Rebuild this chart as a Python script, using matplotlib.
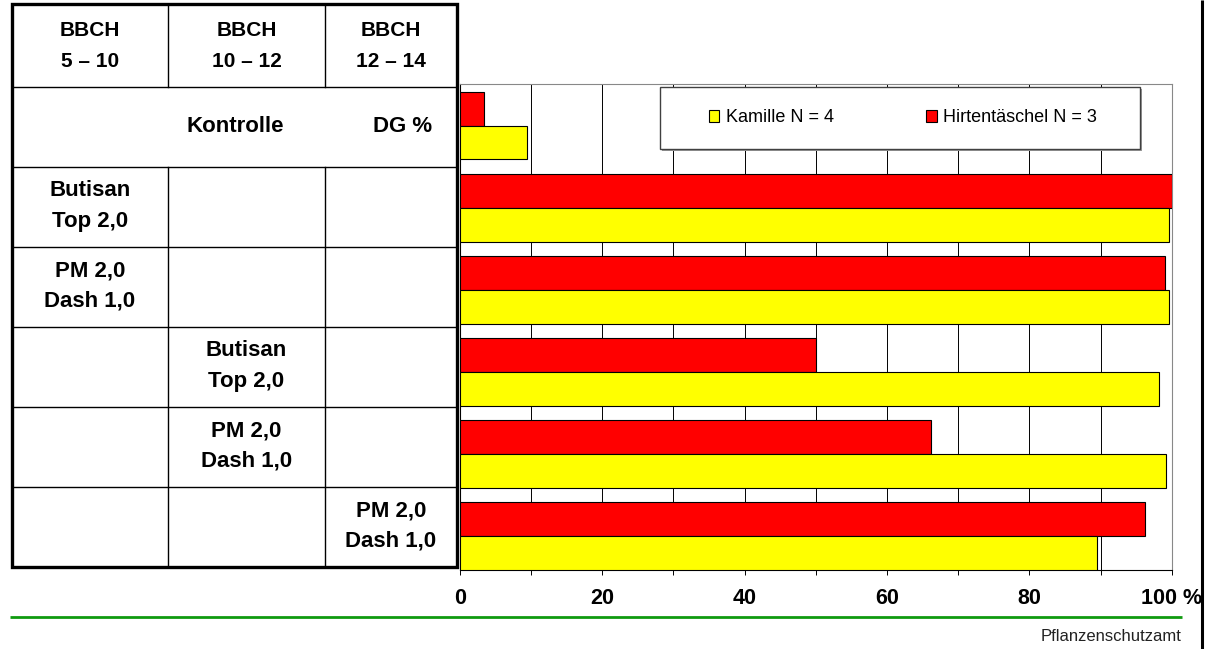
import matplotlib.pyplot as plt
from matplotlib.patches import Rectangle

plt.rcParams['font.family'] = ['Liberation Sans', 'DejaVu Sans']

# Wirkungsgrad (DG %) je Variante, oben Kontrolle
kamille = [9.4, 99.6, 99.6, 98.2, 99.2, 89.5]
hirtentaeschel = [3.4, 100.0, 99.0, 50.0, 66.2, 96.3]
legend_labels = ['Kamille N = 4', 'Hirtentäschel N = 3']

# Tabelle links: Spaltenköpfe und Varianten (Spalte = Anwendungstermin)
stages = ['BBCH\n5 – 10', 'BBCH\n10 – 12', 'BBCH\n12 – 14']
treatments = ['Butisan\nTop 2,0', 'PM 2,0\nDash 1,0', 'Butisan\nTop 2,0',
              'PM 2,0\nDash 1,0', 'PM 2,0\nDash 1,0']
treatment_stage = [0, 0, 1, 1, 2]

x_ticks = [0, 20, 40, 60, 80, 100]
x_ticklabels = ['0', '20', '40', '60', '80', '100 %']

W, H = 1215, 649
fig = plt.figure(figsize=(W / 100, H / 100), dpi=100)

# --- Balkendiagramm ---
ax = fig.add_axes([459.7 / W, 1 - 570 / H, (1171.7 - 459.7) / W, (570 - 84) / H])
pos = list(range(len(kamille)))
h = 0.414
b_red = ax.barh([p - h / 2 for p in pos], hirtentaeschel, height=h,
                color='#ff0000', edgecolor='black', linewidth=0.8, zorder=3)
b_yel = ax.barh([p + h / 2 for p in pos], kamille, height=h,
                color='#ffff00', edgecolor='black', linewidth=0.8, zorder=3)
ax.set_xlim(0, 100)
ax.set_ylim(5.414, -0.5055)
ax.set_yticks([])
ax.set_xticks(x_ticks)
ax.set_xticklabels(x_ticklabels, fontsize=15.5, fontweight='bold')
ax.set_xticks(range(10, 100, 20), minor=True)
ax.tick_params(axis='x', which='both', direction='out', length=3.6, width=0.7, pad=9)
ax.grid(axis='x', which='both', color='black', linewidth=0.7)
ax.set_axisbelow(True)
for s in ['top', 'right']:
    ax.spines[s].set_color('#888888')
    ax.spines[s].set_linewidth(0.8)
ax.spines['bottom'].set_linewidth(0.8)
ax.spines['left'].set_linewidth(0.8)

# --- Überlagerung in Pixelkoordinaten: Tabelle, Legende, Fußzeile ---
ov = fig.add_axes([0, 0, 1, 1], facecolor='none')
ov.set_xlim(0, W)
ov.set_ylim(H, 0)
ov.axis('off')

left, right, top, bottom = 11.5, 456.5, 4, 567
col_x = [168, 325]
row_y = [87, 167, 247, 327, 407, 487, 567]
thin = dict(color='black', linewidth=1.0)
for y in row_y[:-1]:
    ov.plot([left, right], [y, y], **thin)
for x in col_x:
    ov.plot([x, x], [top, row_y[0]], **thin)
    ov.plot([x, x], [row_y[1], bottom], **thin)
ov.add_patch(Rectangle((left, top), right - left, bottom - top, fill=False,
                       edgecolor='black', linewidth=2.4, zorder=5))

col_cx = [90, 246.5, 391]
for c, txt in enumerate(stages):
    ov.text(col_cx[c], 46, txt, ha='center', va='center', fontsize=15,
            fontweight='bold', linespacing=1.8)
ov.text(235, 127, 'Kontrolle', ha='center', va='center', fontsize=16, fontweight='bold')
ov.text(403, 127, 'DG %', ha='center', va='center', fontsize=16, fontweight='bold')
for r, (txt, c) in enumerate(zip(treatments, treatment_stage)):
    yc = (row_y[r + 1] + row_y[r + 2]) / 2
    ov.text(col_cx[c], yc - 1, txt, ha='center', va='center', fontsize=16,
            fontweight='bold', linespacing=1.62)

# Legende mit Rahmen und Schatten
ov.add_patch(Rectangle((662, 89), 480, 62, facecolor='#9a9a9a', edgecolor='none', zorder=6))
ov.add_patch(Rectangle((660, 87), 480, 62, facecolor='white', edgecolor='#404040',
                       linewidth=1.0, zorder=7))
leg = ov.legend([b_yel, b_red], legend_labels, loc='center',
                bbox_to_anchor=(902.7 / W, 1 - 118 / H), bbox_transform=fig.transFigure,
                ncol=2, frameon=False, fontsize=13, handlelength=0.6, handleheight=0.6,
                handletextpad=0.35, columnspacing=5.1, borderpad=0)
leg.set_zorder(8)

# Fußzeile
ov.plot([10, 1182], [617, 617], color='#0f9a0f', linewidth=2.0, solid_capstyle='butt')
ov.text(1182, 641, 'Pflanzenschutzamt', ha='right', va='baseline', fontsize=12, color='#222222')
ov.plot([1201.7, 1201.7], [0, H], color='black', linewidth=2.2, solid_capstyle='butt')

fig.savefig('out.png', dpi=100)
